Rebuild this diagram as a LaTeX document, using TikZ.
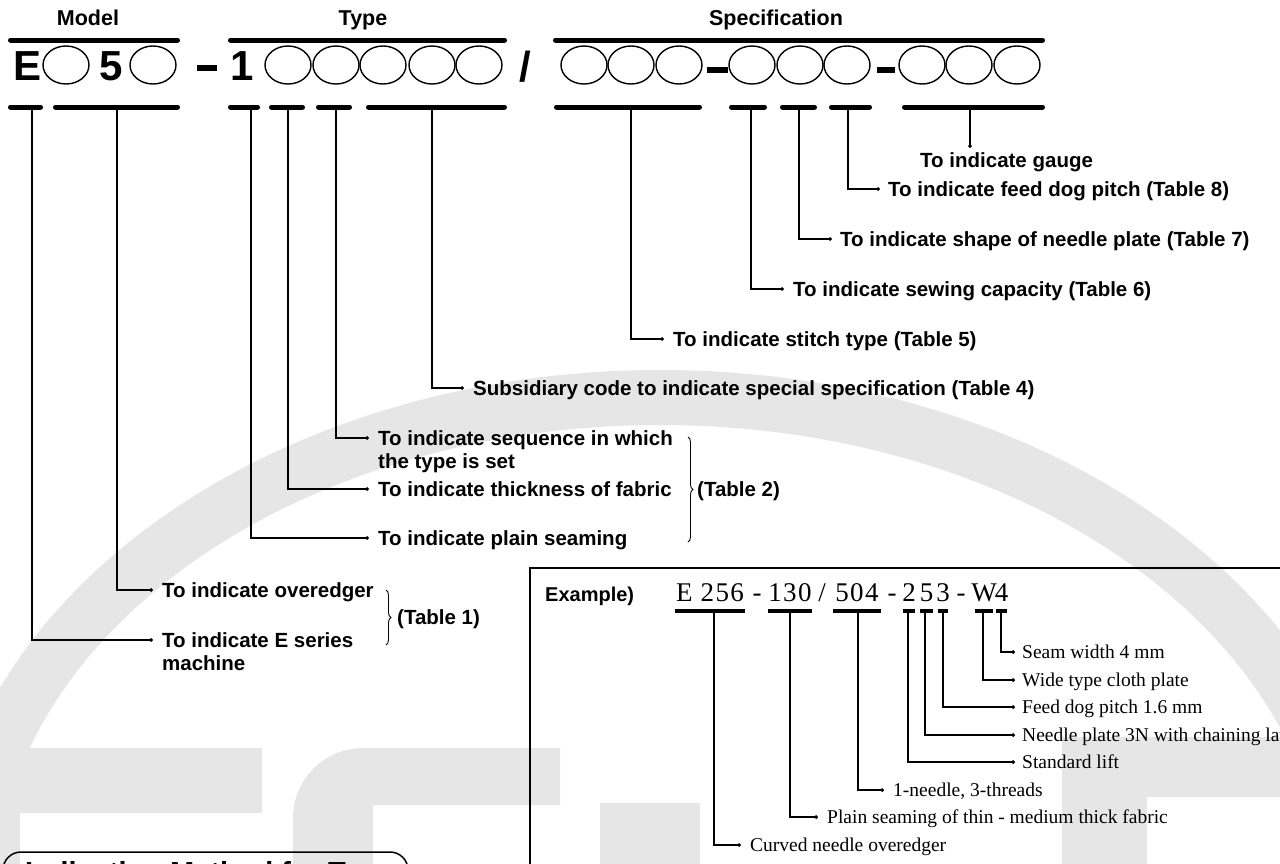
\documentclass[tikz,border=0pt]{standalone}
\usepackage{fontspec}
\setmainfont{Liberation Serif}
\newfontfamily\hvfont{Liberation Sans}
\newfontfamily\codefont{Liberation Serif}[LetterSpace=5]
\usetikzlibrary{decorations.pathreplacing,arrows.meta,shapes.geometric}
\definecolor{wmgray}{HTML}{E6E6E6}
\begin{document}
\begin{tikzpicture}[x=1pt,y=-1pt,
  bar/.style={line width=5pt,line cap=round},
  heavydash/.style={line width=6pt},
  lead/.style={line width=1.1pt,-{Circle[length=3.6pt]}},
  lbl/.style={anchor=west,inner sep=0pt,text height=14.7pt,text depth=0pt,font=\hvfont\bfseries\fontsize{20.5}{24}\selectfont},
  head/.style={anchor=base,inner sep=0pt,font=\hvfont\bfseries\fontsize{21.5}{25}\selectfont},
  big/.style={anchor=base,inner sep=0pt,font=\hvfont\bfseries\fontsize{42}{48}\selectfont},
  slot/.style={draw,line width=1.4pt,ellipse,minimum width=46pt,minimum height=38pt,inner sep=0pt},
  exl/.style={anchor=west,inner sep=0pt,text height=12.9pt,text depth=0pt,font=\fontsize{19.5}{23}\selectfont},
  code/.style={anchor=base,inner sep=0pt,font=\codefont\fontsize{27}{30}\selectfont},
  ubar/.style={line width=4pt},
  brc/.style={decorate,decoration={brace,amplitude=5pt},line width=0.9pt},
  frame/.style={line width=1.5pt},
]
\useasboundingbox (0,0) rectangle (1280,863);
\clip (0,0) rectangle (1280,863);
% ---------- watermark ----------
\fill[wmgray,even odd rule] (660,900) ellipse [x radius=720pt,y radius=530pt]
                            (660,900) ellipse [x radius=665pt,y radius=475pt];
\fill[wmgray] (-60,748) rectangle (262,813);
\fill[wmgray] (-60,748) rectangle (20,870);
\fill[wmgray] (293,880) [rounded corners=70pt] -- (293,748) -- (440,748) [sharp corners] -- (560,748) -- (560,805) -- (373,805) -- (373,880) -- cycle;
\fill[wmgray] (600,803) rectangle (700,870);
\fill[wmgray] (1062,737) rectangle (1147,870);
\fill[wmgray] (1147,737) rectangle (1290,797);

% ---------- headings ----------
\node[head] (hModel) at (88,25) {Model};
\node[head] (hType) at (363,25) {Type};
\node[head] (hSpec) at (776,25) {Specification};

% top bars
\draw[bar] (10.5,40) -- (177.5,40);
\draw[bar] (230.5,40) -- (504.5,40);
\draw[bar] (555.5,40) -- (1042.5,40);

% ---------- code row ----------
\node[big] (cE) at (27.5,80) {E};
\node[slot] (m1) at (66,65) {};
\node[big] (c5) at (111,80) {5};
\node[slot] (m2) at (153,65) {};
\draw[heavydash] (197,68) -- (217,68);
\node[big] (c1) at (242,80) {1};
\foreach \x [count=\i] in {288,336,383,432,479} \node[slot] (t\i) at (\x,65) {};
\node[big] (cs) at (525,81) {/};
\foreach \x [count=\i] in {584,631,679,752,800,847,922,969,1017} \node[slot] (s\i) at (\x,65) {};
\draw[heavydash] (707,70) -- (728,70);
\draw[heavydash] (877,70) -- (895,70);

% bottom bars
\foreach \a/\b in {8/43,53/180,228/260,269/305,316/352,366/507,554/702,729/767,780/817,829/872,902/1045}
  \draw[bar] (\a+2.5,107) -- (\b-2.5,107);

% bar attachment points
\coordinate (bE) at (32,109);
\coordinate (bM) at (117,109);
\coordinate (bT1) at (251,109);
\coordinate (bT2) at (288,109);
\coordinate (bT3) at (336,109);
\coordinate (bT4) at (432,109);
\coordinate (bS1) at (631,109);
\coordinate (bS2) at (751,109);
\coordinate (bS3) at (799,109);
\coordinate (bS4) at (848,109);
\coordinate (bS5) at (970,109);

% ---------- labels ----------
\node[lbl] (lGauge) at (920,160) {To indicate gauge};
\node[lbl] (lFeed) at (888,189) {To indicate feed dog pitch (Table 8)};
\node[lbl] (lShape) at (840,239) {To indicate shape of needle plate (Table 7)};
\node[lbl] (lSew) at (793,289) {To indicate sewing capacity (Table 6)};
\node[lbl] (lStitch) at (673,339) {To indicate stitch type (Table 5)};
\node[lbl] (lSub) at (473,388) {Subsidiary code to indicate special specification (Table 4)};
\node[lbl] (lSeq) at (378,438) {To indicate sequence in which};
\node[lbl] (lSeqb) at (378,461) {the type is set};
\node[lbl] (lThick) at (378,489) {To indicate thickness of fabric};
\node[lbl] (lPlain) at (378,538) {To indicate plain seaming};
\node[lbl] (lOver) at (162,590) {To indicate overedger};
\node[lbl] (lEser) at (162,640) {To indicate E series};
\node[lbl] (lEserb) at (162,663) {machine};
\node[lbl] (lT2) at (697,489) {(Table 2)};
\node[lbl] (lT1) at (397,617) {(Table 1)};

\draw[lead] (bS5) -- ([yshift=4.6pt]lGauge.north -| bS5);
\draw[lead] (bS4) |- ([xshift=-8pt]lFeed.west);
\draw[lead] (bS3) |- ([xshift=-8pt]lShape.west);
\draw[lead] (bS2) |- ([xshift=-9pt]lSew.west);
\draw[lead] (bS1) |- ([xshift=-9pt]lStitch.west);
\draw[lead] (bT4) |- ([xshift=-9pt]lSub.west);
\draw[lead] (bT3) |- ([xshift=-9pt]lSeq.west);
\draw[lead] (bT2) |- ([xshift=-9pt]lThick.west);
\draw[lead] (bT1) |- ([xshift=-9pt]lPlain.west);
\draw[lead] (bM) |- ([xshift=-9pt]lOver.west);
\draw[lead] (bE) |- ([xshift=-9pt]lEser.west);

\draw[brc] (688,437) -- (688,542);
\draw[brc] (386,590) -- (386,645);

% ---------- example box ----------
\draw[frame] (1300,568) -- (530,568) -- (530,880);
\node[anchor=base west,inner sep=0pt,font=\hvfont\bfseries\fontsize{20}{24}\selectfont] (exT) at (545,601) {Example)};

\node[code] (x1) at (710,601) {E 256};
\node[code] (xd1) at (757,601) {-};
\node[code] (x2) at (790,601) {130};
\node[code] (xsl) at (822,601) {/};
\node[code] (x3) at (857,601) {504};
\node[code] (xd2) at (892,601) {-};
\node[code] (x4a) at (909,601) {2};
\node[code] (x4b) at (926.5,601) {5};
\node[code] (x4c) at (943,601) {3};
\node[code] (xd3) at (961,601) {-};
\node[code] (x5a) at (984,601) {W};
\node[code] (x5b) at (1001.5,601) {4};

\foreach \a/\b in {675/745,768/812,833/881,903/915,920/933,938/948,975/993,996/1007}
  \draw[ubar] (\a,611) -- (\b,611);

\coordinate (u1) at (714,612);
\coordinate (u2) at (790,612);
\coordinate (u3) at (858,612);
\coordinate (u4) at (908,612);
\coordinate (u5) at (925,612);
\coordinate (u6) at (943,612);
\coordinate (u7) at (983,612);
\coordinate (u8) at (1001,612);

\node[exl] (e8) at (1022,652) {Seam width 4 mm};
\node[exl] (e7) at (1022,680) {Wide type cloth plate};
\node[exl] (e6) at (1022,707) {Feed dog pitch 1.6 mm};
\node[exl] (e5) at (1022,735) {Needle plate 3N with chaining latch};
\node[exl] (e4) at (1022,762) {Standard lift};
\node[exl] (e3) at (893,790) {1-needle, 3-threads};
\node[exl] (e2) at (827,817) {Plain seaming of thin - medium thick fabric};
\node[exl] (e1) at (750,845) {Curved needle overedger};

\draw[lead] (u8) |- ([xshift=-7pt]e8.west);
\draw[lead] (u7) |- ([xshift=-7pt]e7.west);
\draw[lead] (u6) |- ([xshift=-7pt]e6.west);
\draw[lead] (u5) |- ([xshift=-7pt]e5.west);
\draw[lead] (u4) |- ([xshift=-7pt]e4.west);
\draw[lead] (u3) |- ([xshift=-9pt]e3.west);
\draw[lead] (u2) |- ([xshift=-9pt]e2.west);
\draw[lead] (u1) |- ([xshift=-9pt]e1.west);

% ---------- bottom-left heading box ----------
\draw[frame,rounded corners=18pt] (3,900) -- (3,852) -- (408,852) -- (408,900);
\node[anchor=base west,inner sep=0pt,font=\hvfont\bfseries\fontsize{29}{34}\selectfont] (bh) at (25,882) {Indication Method for Type};
\end{tikzpicture}
\end{document}
